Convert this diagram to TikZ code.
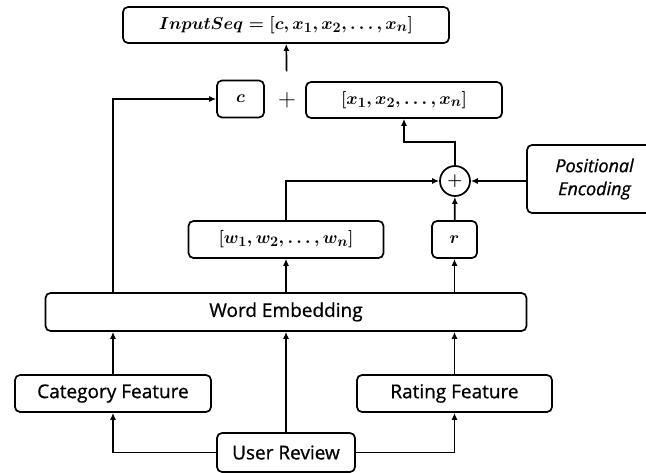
\documentclass[tikz,border=0pt]{standalone}
\usepackage{amsmath}
\usepackage{fontspec}
\setmainfont{Open Sans}[FakeBold=0.8]
\usetikzlibrary{positioning, calc, arrows.meta}

\begin{document}
\begin{tikzpicture}[
    x=1pt, y=-1pt,
    font=\fontsize{19}{23}\selectfont,
    >={Latex[length=7pt, width=6pt]},
    line width=1.7pt,
    blk/.style={rectangle, draw, line width=1.7pt, fill=white, rounded corners=5pt, inner sep=0pt, minimum height=37pt},
    sumop/.style={circle, draw, line width=1.7pt, fill=white, minimum size=30pt, inner sep=0pt},
    link/.style={->, line width=1.7pt}
]
\useasboundingbox (0,0) rectangle (646,473);

% Output sequence
\node[blk, minimum width=326pt, minimum height=36pt] (seq) at (286,25) {$\boldsymbol{InputSeq=[c,x_1,x_2,\ldots,x_n]}$};

% c + [x]
\node[blk, minimum width=47pt] (cbox) at (240.5,99) {$\boldsymbol{c}$};
\node[inner sep=2pt, font=\fontsize{26}{26}\selectfont] (plus) at (287,100) {$+$};
\node[blk, minimum width=196pt, minimum height=36pt] (xbox) at (404,100) {$\boldsymbol{[x_1,x_2,\ldots,x_n]}$};

% Sum with positional encoding
\node[sumop] (sum) at (455,181) {$\boldsymbol{+}$};
\node[blk, minimum width=135pt, minimum height=68pt, align=center, font=\fontsize{18}{23}\selectfont\itshape] (pe) at (594.5,179) {Positional\\Encoding};
\coordinate (bend) at (455,142);

% Embedding outputs
\node[blk, minimum width=195pt] (wbox) at (286,239.5) {$\boldsymbol{[w_1,w_2,\ldots,w_n]}$};
\node[blk, minimum width=45pt] (rbox) at (454.5,239.5) {$\boldsymbol{r}$};

% Word embedding
\node[blk, minimum width=481pt, minimum height=38pt] (emb) at (286,312) {Word Embedding};

% Features and input
\node[blk, minimum width=196pt] (cat) at (113,393.5) {Category Feature};
\node[blk, minimum width=195pt] (rat) at (454.5,393.5) {Rating Feature};
\node[blk, minimum width=138pt, minimum height=39pt] (user) at (286,452.5) {User Review};

% Connectors
\draw[link] (user.west) -| (cat.south);
\draw[link] (user.east) -| (rat.south);
\draw[link] (user) -- (emb);
\draw[link] (cat) -- (cat |- emb.south);
\draw[link] (rat) -- (rat |- emb.south);
\draw[link] (emb.north) -- (wbox);
\draw[link] (emb.north -| rbox) -- (rbox);
\draw[link] (emb.north -| cat) |- (cbox.west);
\draw[link] (wbox) |- (sum.west);
\draw[link] (rbox) -- (sum);
\draw[link] (pe.west |- sum) -- (sum.east);
\draw[link] (sum) -- (bend) -| (xbox);
\draw[link, shorten <=18pt] (plus) -- (seq);

\end{tikzpicture}
\end{document}
